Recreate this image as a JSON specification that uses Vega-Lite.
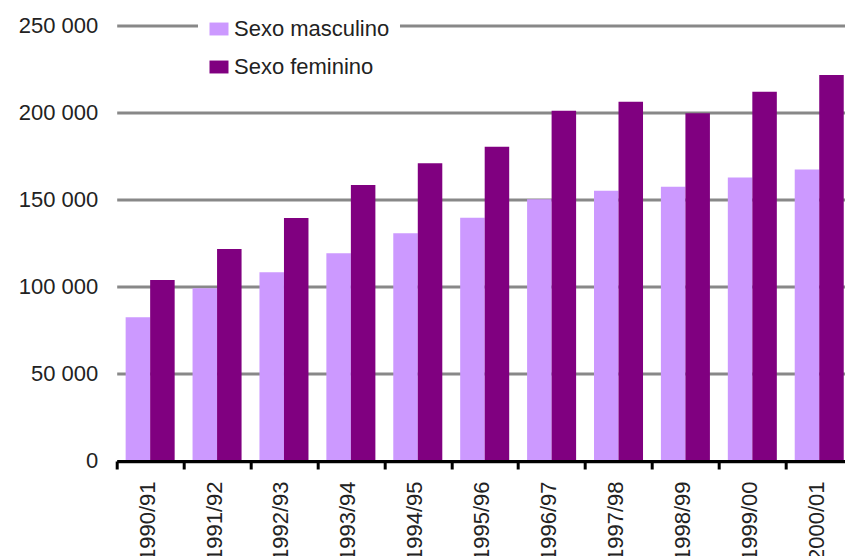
{
  "$schema": "https://vega.github.io/schema/vega-lite/v6.json",
  "width": 728,
  "height": 435.5,
  "autosize": {"type": "none"},
  "padding": {"left": 116.7, "top": 25.5, "right": 0, "bottom": 95},
  "background": "white",
  "config": {"view": {"stroke": null}, "font": "Liberation Sans"},
  "data": {
    "values": [
      {"ano": "1990/91", "sexo": "Sexo masculino", "valor": 82500},
      {"ano": "1990/91", "sexo": "Sexo feminino", "valor": 103900},
      {"ano": "1991/92", "sexo": "Sexo masculino", "valor": 99100},
      {"ano": "1991/92", "sexo": "Sexo feminino", "valor": 121700},
      {"ano": "1992/93", "sexo": "Sexo masculino", "valor": 108300},
      {"ano": "1992/93", "sexo": "Sexo feminino", "valor": 139500},
      {"ano": "1993/94", "sexo": "Sexo masculino", "valor": 119200},
      {"ano": "1993/94", "sexo": "Sexo feminino", "valor": 158400},
      {"ano": "1994/95", "sexo": "Sexo masculino", "valor": 130700},
      {"ano": "1994/95", "sexo": "Sexo feminino", "valor": 170900},
      {"ano": "1995/96", "sexo": "Sexo masculino", "valor": 139700},
      {"ano": "1995/96", "sexo": "Sexo feminino", "valor": 180400},
      {"ano": "1996/97", "sexo": "Sexo masculino", "valor": 150200},
      {"ano": "1996/97", "sexo": "Sexo feminino", "valor": 201100},
      {"ano": "1997/98", "sexo": "Sexo masculino", "valor": 155100},
      {"ano": "1997/98", "sexo": "Sexo feminino", "valor": 206200},
      {"ano": "1998/99", "sexo": "Sexo masculino", "valor": 157400},
      {"ano": "1998/99", "sexo": "Sexo feminino", "valor": 199600},
      {"ano": "1999/00", "sexo": "Sexo masculino", "valor": 162800},
      {"ano": "1999/00", "sexo": "Sexo feminino", "valor": 212000},
      {"ano": "2000/01", "sexo": "Sexo masculino", "valor": 167400},
      {"ano": "2000/01", "sexo": "Sexo feminino", "valor": 221600}
    ]
  },
  "mark": {"type": "bar"},
  "encoding": {
    "x": {
      "field": "ano",
      "type": "nominal",
      "sort": null,
      "scale": {"range": [0, 736], "paddingInner": 0, "paddingOuter": 0},
      "axis": {
        "title": null,
        "labelAngle": -90,
        "labelFontSize": 22,
        "labelColor": "#222",
        "labelOffset": -3,
        "domainColor": "#000",
        "domainWidth": 3,
        "tickColor": "#000",
        "tickWidth": 3,
        "tickSize": 8,
        "tickBand": "extent",
        "labelPadding": 12,
        "grid": false,
        "zindex": 1
      }
    },
    "xOffset": {
      "field": "sexo",
      "type": "nominal",
      "sort": ["Sexo masculino", "Sexo feminino"],
      "scale": {"paddingInner": 0, "paddingOuter": 0.365}
    },
    "y": {
      "field": "valor",
      "type": "quantitative",
      "scale": {"domain": [0, 250000], "nice": false},
      "axis": {
        "title": null,
        "values": [0, 50000, 100000, 150000, 200000, 250000],
        "labelExpr": "replace(format(datum.value, ','), ',', ' ')",
        "labelFontSize": 22,
        "labelColor": "#222",
        "domain": false,
        "ticks": false,
        "labelPadding": 19,
        "grid": true,
        "gridColor": "#888",
        "gridWidth": 3,
        "gridOpacity": 1
      }
    },
    "color": {
      "field": "sexo",
      "type": "nominal",
      "sort": ["Sexo masculino", "Sexo feminino"],
      "scale": {"domain": ["Sexo masculino", "Sexo feminino"], "range": ["#CC99FF", "#800080"]},
      "legend": {
        "orient": "none",
        "legendX": 81.3,
        "legendY": -17.5,
        "title": null,
        "fillColor": "white",
        "padding": 10,
        "labelFontSize": 22,
        "labelColor": "#222",
        "symbolType": "M-1,-0.68H1V0.68H-1Z",
        "symbolSize": 361,
        "symbolStrokeWidth": 0,
        "rowPadding": 16,
        "labelOffset": 4
      }
    }
  }
}
